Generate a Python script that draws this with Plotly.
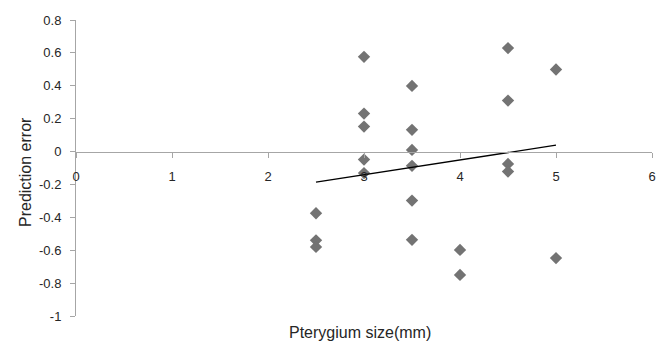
import plotly.graph_objects as go

size_mm = [2.5, 2.5, 2.5,
           3, 3, 3, 3, 3,
           3.5, 3.5, 3.5, 3.5, 3.5, 3.5,
           4, 4,
           4.5, 4.5, 4.5, 4.5,
           5, 5]
pred_err = [-0.375, -0.54, -0.58,
            0.576, 0.231, 0.152, -0.049, -0.131,
            0.399, 0.132, 0.010, -0.087, -0.298, -0.537,
            -0.598, -0.750,
            0.629, 0.310, -0.075, -0.122,
            0.499, -0.648]
trend_x = [2.5, 5]
trend_y = [-0.186, 0.039]

x_ticks = [0, 1, 2, 3, 4, 5, 6]
y_ticks = [0.8, 0.6, 0.4, 0.2, 0, -0.2, -0.4, -0.6, -0.8, -1]
y_labels = ["0.8", "0.6", "0.4", "0.2", "0", "-0.2", "-0.4", "-0.6", "-0.8", "-1"]

fig = go.Figure()
fig.add_trace(go.Scatter(x=size_mm, y=pred_err, mode="markers",
                         marker=dict(symbol="diamond", size=9.5, color="#737373"),
                         showlegend=False, hoverinfo="skip"))
fig.add_trace(go.Scatter(x=trend_x, y=trend_y, mode="lines",
                         line=dict(color="#000000", width=1.3),
                         showlegend=False, hoverinfo="skip"))

grey = "#A6A6A6"
fig.update_layout(
    width=660, height=342,
    margin=dict(l=76, r=8, t=20, b=26),
    paper_bgcolor="white", plot_bgcolor="white",
    font=dict(family="Liberation Sans", color="#262626", size=13),
    xaxis=dict(range=[0, 6], tickvals=x_ticks, ticktext=[str(v) for v in x_ticks],
               showgrid=False, zeroline=False, showline=True, linecolor=grey, linewidth=1,
               ticks="outside", ticklen=5, tickcolor=grey, tickwidth=1,
               anchor="free", position=1 / 1.8, ticklabelstandoff=8,
               ticklabeloverflow="allow", automargin=False,
               tickfont=dict(size=13)),
    yaxis=dict(range=[-1, 0.8], tickvals=y_ticks, ticktext=y_labels,
               showgrid=False, zeroline=False, showline=True, linecolor=grey, linewidth=1,
               ticks="outside", ticklen=5, tickcolor=grey, tickwidth=1,
               ticklabelstandoff=6, automargin=False, tickfont=dict(size=13)),
    annotations=[
        dict(text="Pterygium size(mm)", xref="paper", yref="paper", x=(360 - 76) / 576, y=0,
             yshift=-16, xanchor="center", yanchor="middle", showarrow=False,
             font=dict(size=16, color="#262626")),
        dict(text="Prediction error", xref="paper", yref="paper", x=0, y=(316 - 172) / 296,
             xshift=-51, xanchor="center", yanchor="middle", textangle=-90, showarrow=False,
             font=dict(size=16, color="#262626")),
    ],
)

fig.write_html("out.html", config={"displayModeBar": False, "staticPlot": True},
               post_script="document.body.style.margin='0';document.body.style.padding='0';")
